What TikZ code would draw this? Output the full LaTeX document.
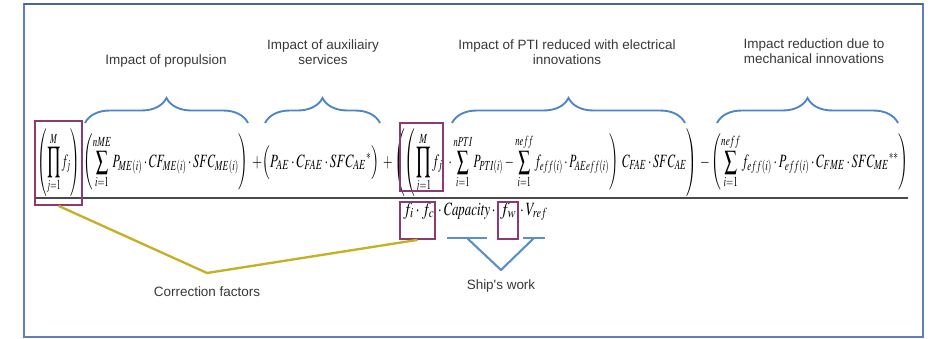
\documentclass[tikz,border=0pt]{standalone}
\usepackage{mathptmx}
\usepackage[no-math]{fontspec}
\usepackage{graphicx}
\usetikzlibrary{decorations.pathreplacing,fit,calc}
\newfontfamily\labelfont{Liberation Sans}
\definecolor{frameBlue}{HTML}{5A80BF}
\definecolor{braceBlue}{HTML}{4C86C6}
\definecolor{workBlue}{HTML}{5B8FCB}
\definecolor{corrMagenta}{HTML}{8E3A70}
\definecolor{corrGold}{HTML}{C7B026}
\definecolor{ruleGrey}{HTML}{4A4A4A}
\definecolor{labelGrey}{HTML}{383838}
% taller product sign, limits above and below
\newcommand{\Prod}{\mathop{\vcenter{\hbox{\scalebox{1}[1.3]{$\displaystyle\prod$}}}}\limits}
% formula piece squeezed to a given width
\newcommand{\squeezed}[2]{\resizebox{#1}{\height}{$\displaystyle #2$}}

\begin{document}
\begin{tikzpicture}[
    x=0.03cm, y=-0.03cm,
    lbl/.style={font=\labelfont\fontsize{11.5}{13.3}\selectfont,
                text=labelGrey, align=center, inner sep=0pt},
    eqpart/.style={anchor=base west, inner sep=0pt,
                   font=\fontsize{16}{19}\selectfont},
    brc/.style={decorate, decoration={brace, amplitude=0.75cm},
                draw=braceBlue, line width=1.6pt},
    corrbox/.style={draw=corrMagenta, line width=1.5pt, inner sep=0pt},
    corrlink/.style={draw=corrGold, line width=2pt, line join=round},
    worklink/.style={draw=workBlue, line width=1.8pt, line join=round}
  ]
    \useasboundingbox (0,0) rectangle (932,338);
    \draw[frameBlue, line width=1.8pt] (24,4) rectangle (923,337);
    \draw[frameBlue!80!black, line width=2.4pt] (24,4) -- (923,4);

    % what each term stands for
    \node[lbl] (propLbl) at (166,61) {Impact of propulsion};
    \node[lbl] (auxLbl)  at (323,52) {Impact of auxiliairy\\services};
    \node[lbl] (ptiLbl)  at (567,52) {Impact of PTI reduced with electrical\\innovations};
    \node[lbl] (mechLbl) at (814,51) {Impact reduction due to\\mechanical innovations};

    \draw[brc] (85,123)  -- (248,123);
    \draw[brc] (265,123) -- (380,123);
    \draw[brc] (452,123) -- (685,123);
    \draw[brc] (717,123) -- (898,123);

    % numerator
    \node[eqpart] (numA) at (37,167)  {\squeezed{1.29cm}{\left(\Prod_{j=1}^{M} f_j\right)}};
    \node[eqpart] (numB) at (83,167)  {\squeezed{4.95cm}{\left(\sum_{i=1}^{nME} P_{ME(i)}\cdot CF_{ME(i)}\cdot SFC_{ME(i)}\right)}};
    \node[eqpart] (numC) at (252,167) {\squeezed{3.81cm}{+\Bigl(P_{AE}\cdot C_{FAE}\cdot SFC_{AE}{}^{*}\Bigr)}};
    \node[eqpart] (numD) at (383,167) {\squeezed{1.83cm}{+\left(\left(\Prod_{j=1}^{M} f_j\right.\right.}};
    \node[eqpart] (numE) at (446,167) {\squeezed{5.16cm}{\left.{}\cdot\sum_{i=1}^{nPTI} P_{PTI(i)}-\sum_{i=1}^{neff} f_{eff(i)}\cdot P_{AEeff(i)}\right)}};
    \node[eqpart] (numF) at (621,167) {\squeezed{2.28cm}{\left.C_{FAE}\cdot SFC_{AE}\vphantom{\Prod_{j=1}^{M}}\right)}};
    \node[eqpart] (numG) at (700,167) {\squeezed{6.24cm}{-\left(\sum_{i=1}^{neff} f_{eff(i)}\cdot P_{eff(i)}\cdot C_{FME}\cdot SFC_{ME}{}^{**}\right)}};

    \coordinate (ruleL) at (35,198);
    \coordinate (ruleR) at (908,198);
    \draw[ruleGrey, line width=1.3pt] (ruleL) -- (ruleR);

    % denominator
    \node[eqpart] (denA) at (403,215) {\squeezed{0.93cm}{f_i\cdot f_c}};
    \node[eqpart] (denB) at (436,215) {\squeezed{1.83cm}{{}\cdot\mathit{Capacity}\cdot{}}};
    \node[eqpart] (denC) at (500,215) {\squeezed{0.48cm}{f_w}};
    \node[eqpart] (denD) at (518,215) {\squeezed{0.87cm}{{}\cdot V_{ref}}};

    % correction factors
    \node[corrbox, fit={(35,121) (82,205)}]   (boxA) {};
    \node[corrbox, fit={(400,123) (443,191)}] (boxB) {};
    \node[corrbox, fit={(400,202) (435,239)}] (boxC) {};
    \node[corrbox, fit={(498,202) (518,239)}] (boxD) {};

    \coordinate (corrKink) at (207,273);
    \draw[corrlink] (boxA.south) -- (corrKink) -- (boxC.south);
    \node[lbl] (corrLbl) at (207,292) {Correction factors};

    % ship's work
    \coordinate (capL) at (447,238);
    \coordinate (capR) at (487,238);
    \coordinate (refL) at (523,238);
    \coordinate (refR) at (545,238);
    \coordinate (workTip) at (501,270);
    \draw[worklink] (capL) -- (capR);
    \draw[worklink] (refL) -- (refR);
    \draw[worklink] ($(capL)!0.5!(capR)$) -- (workTip) -- ($(refL)!0.5!(refR)$);
    \node[lbl] (workLbl) at (501,286) {Ship's work};
\end{tikzpicture}
\end{document}
